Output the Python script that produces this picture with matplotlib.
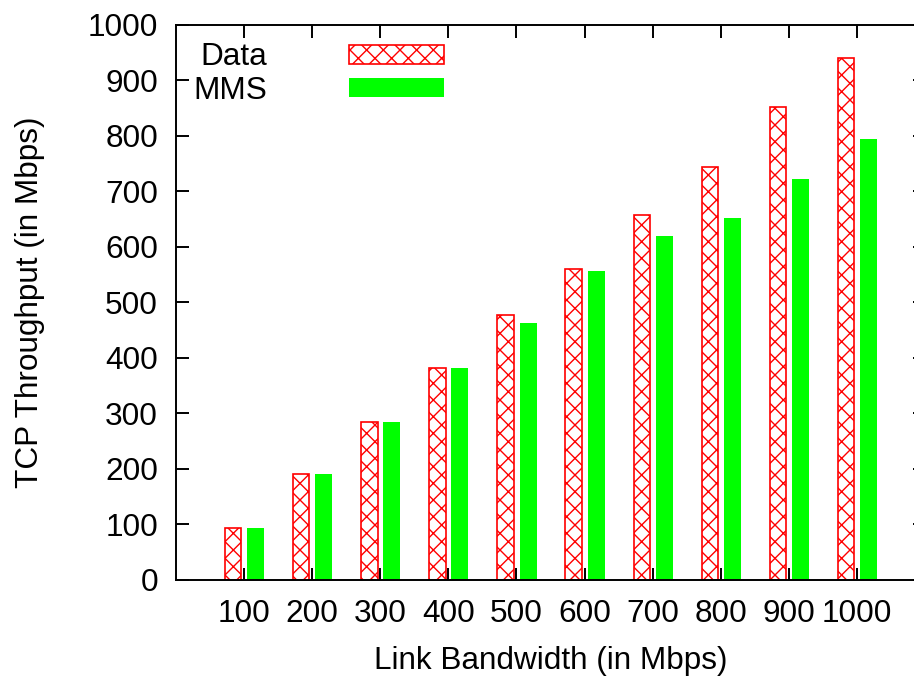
import numpy as np
import matplotlib.pyplot as plt

plt.rcParams['font.family'] = ['Liberation Sans', 'DejaVu Sans']
plt.rcParams['hatch.linewidth'] = 1.0

bandwidth = [100, 200, 300, 400, 500, 600, 700, 800, 900, 1000]
data_tput = [94, 191, 285, 382, 477, 560, 658, 744, 852, 940]
mms_tput = [93, 191, 285, 382, 463, 556, 619, 652, 722, 794]

x = np.arange(1, len(bandwidth) + 1)
fs = 22.7

fig = plt.figure(figsize=(9.14, 6.77), dpi=100)
ax = fig.add_axes([0.1926, 0.1433, 0.8194, 0.8198])

ax.bar(x - 0.16, data_tput, width=0.24, facecolor='white', edgecolor='#ff0000',
       hatch='xx', linewidth=1.2, label='Data')
ax.bar(x + 0.17, mms_tput, width=0.25, color='#00ff00', linewidth=0, label='MMS')

ax.set_xlim(0, 11)
ax.set_ylim(0, 1000)
ax.set_xticks(x)
ax.set_xticklabels([str(b) for b in bandwidth])
ax.set_yticks(np.arange(0, 1001, 100))

ax.tick_params(direction='in', length=9, width=1.4, labelsize=fs,
               top=True, right=True)
ax.tick_params(axis='x', pad=14)
ax.tick_params(axis='y', pad=13)
for s in ax.spines.values():
    s.set_linewidth(1.4)

ax.set_xlabel('Link Bandwidth (in Mbps)', fontsize=fs, labelpad=12)
ax.set_ylabel('TCP Throughput (in Mbps)', fontsize=fs, labelpad=31)

ax.legend(loc='upper left', bbox_to_anchor=(0.0, 1.0), frameon=False,
          markerfirst=False, fontsize=fs, handlelength=3.0, handleheight=0.55,
          handletextpad=2.6, labelspacing=0.12, borderaxespad=0.15)

fig.savefig('out.png', dpi=100)
